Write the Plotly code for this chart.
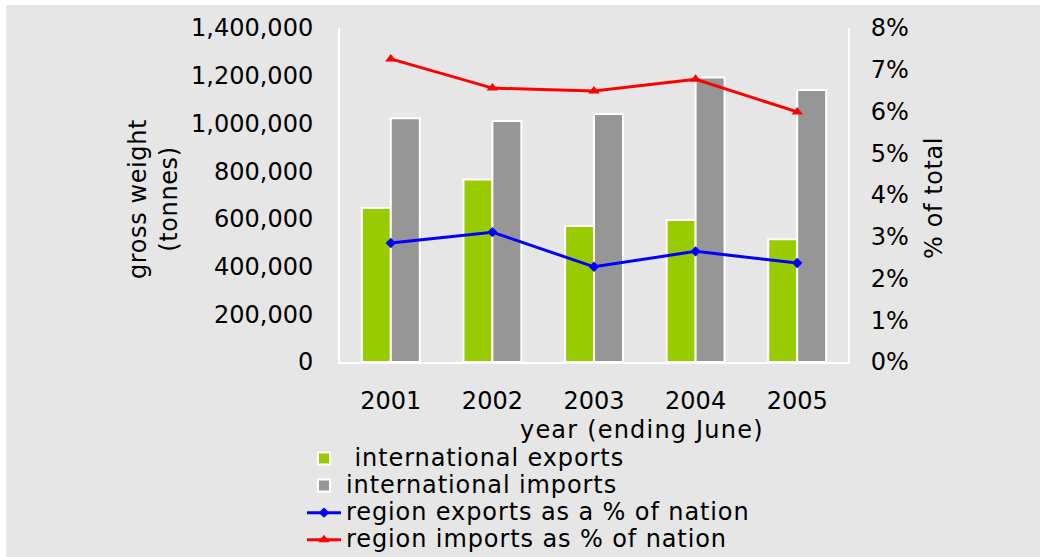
import plotly.graph_objects as go

years = ["2001", "2002", "2003", "2004", "2005"]
intl_exports = [645000, 765000, 570000, 595000, 515000]
intl_imports = [1022000, 1010000, 1040000, 1192000, 1140000]
region_exports_pct = [0.0285, 0.0311, 0.0228, 0.0265, 0.0237]
region_imports_pct = [0.0726, 0.0656, 0.0649, 0.0677, 0.0599]

y_ticks = [0, 200000, 400000, 600000, 800000, 1000000, 1200000, 1400000]
y2_ticks = [0, 0.01, 0.02, 0.03, 0.04, 0.05, 0.06, 0.07, 0.08]

W, H = 1040, 557
PL, PR, PT, PB = 340, 848, 28, 362
FONT = "DejaVu Sans"
FS = 24


def px_x(x):
    return (x - PL) / (PR - PL)


def px_y(y):
    return (PB - y) / (PB - PT)


def big(s, ls=0.9):
    return ('<span style="font-size:24px;letter-spacing:%.1fpx">' % ls) + s + '</span>'


def spaced(s, ls):
    return ('<span style="letter-spacing:%.1fpx">' % ls) + s + '</span>'


fig = go.Figure()
fig.add_trace(go.Bar(
    x=years, y=intl_exports, name=big("\u00a0international exports"),
    marker=dict(color="#99cc00", line=dict(color="white", width=2)),
))
fig.add_trace(go.Bar(
    x=years, y=intl_imports, name=big("international imports"),
    marker=dict(color="#969696", line=dict(color="white", width=2)),
))
fig.add_trace(go.Scatter(
    x=years, y=region_exports_pct, name=big("region exports as a % of nation"),
    yaxis="y2", mode="lines+markers",
    line=dict(color="#0000ff", width=3),
    marker=dict(symbol="diamond", size=8, color="#0000ff"),
))
fig.add_trace(go.Scatter(
    x=years, y=region_imports_pct, name=big("region imports as % of nation"),
    yaxis="y2", mode="lines+markers",
    line=dict(color="#ff0000", width=3),
    marker=dict(symbol="triangle-up", size=10, color="#ff0000"),
))

fig.update_layout(
    template="none",
    width=W, height=H,
    margin=dict(l=PL, r=W - PR, t=PT, b=H - PB, pad=0, autoexpand=False),
    paper_bgcolor="#e6e6e6",
    plot_bgcolor="#e6e6e6",
    font=dict(family=FONT, size=FS, color="black"),
    barmode="group",
    bargap=0.43,
    bargroupgap=0,
    xaxis=dict(
        type="category", showgrid=False, showline=True, linecolor="white",
        linewidth=2, ticks="", ticklabelstandoff=16, zeroline=False,
        tickfont=dict(size=FS), automargin=False,
    ),
    yaxis=dict(
        range=[0, 1400000], tickvals=y_ticks, tickformat=",",
        showgrid=False, showline=True, linecolor="white", linewidth=2,
        ticks="", ticklabelstandoff=20, zeroline=False, tickfont=dict(size=FS),
        automargin=False,
    ),
    yaxis2=dict(
        range=[0, 0.08], tickvals=y2_ticks, tickformat=".0%",
        overlaying="y", side="right", showgrid=False, showline=True,
        linecolor="white", linewidth=2, ticks="", ticklabelstandoff=16,
        zeroline=False, tickfont=dict(size=FS), automargin=False,
    ),
    legend=dict(
        xref="paper", yref="paper",
        x=px_x(302), y=px_y(440), xanchor="left", yanchor="top",
        bgcolor="rgba(0,0,0,0)", borderwidth=0,
        font=dict(size=18.5, family=FONT, color="black"),
        itemwidth=34, tracegroupgap=0, traceorder="normal",
    ),
    showlegend=True,
)

fig.add_annotation(
    text=spaced("gross weight", 0.6) + "<br>" + spaced("(tonnes)", 0.6),
    textangle=-90, showarrow=False,
    xref="paper", yref="paper", x=px_x(153), y=px_y(199),
    xanchor="center", yanchor="middle", font=dict(size=FS),
)
fig.add_annotation(
    text=spaced("% of total", 0.6), textangle=-90, showarrow=False,
    xref="paper", yref="paper", x=px_x(934), y=px_y(198),
    xanchor="center", yanchor="middle", font=dict(size=FS),
)
fig.add_annotation(
    text=spaced("year (ending June)", 1.2), showarrow=False,
    xref="paper", yref="paper", x=px_x(642), y=px_y(430),
    xanchor="center", yanchor="middle", font=dict(size=FS),
)

# white frame strips at the top and left of the picture
fig.add_shape(type="rect", xref="paper", yref="paper", layer="above",
              x0=px_x(0), x1=px_x(W), y0=px_y(5), y1=px_y(0),
              line=dict(width=0), fillcolor="white")
fig.add_shape(type="rect", xref="paper", yref="paper", layer="above",
              x0=px_x(0), x1=px_x(6), y0=px_y(H), y1=px_y(0),
              line=dict(width=0), fillcolor="white")

fig.write_html("out.html")
